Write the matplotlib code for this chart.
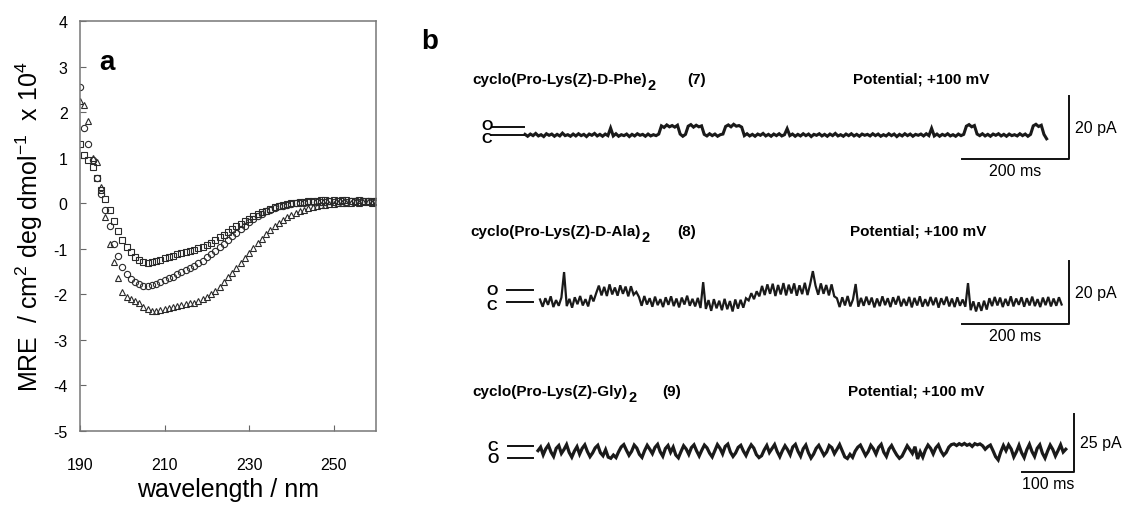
import numpy as np
import matplotlib
matplotlib.use('Agg')
import matplotlib.pyplot as plt

plt.rcParams['font.family'] = ['Liberation Sans', 'DejaVu Sans']
plt.rcParams['mathtext.fontset'] = 'custom'
plt.rcParams['mathtext.rm'] = 'Liberation Sans'
plt.rcParams['mathtext.bf'] = 'Liberation Sans:bold'
plt.rcParams['axes.unicode_minus'] = False

W, H = 1125, 506

# ---- Panel a: CD spectra (MRE x 10^4), 190-260 nm in 1 nm steps ----
wellenlaenge = np.arange(190, 261)
mre_quadrat = [1.30, 1.05, 0.95, 0.80, 0.55, 0.30, 0.10, -0.15, -0.40, -0.60,
               -0.80, -0.95, -1.07, -1.17, -1.24, -1.29, -1.31, -1.30, -1.27, -1.24,
               -1.21, -1.18, -1.15, -1.12, -1.09, -1.06, -1.04, -1.02, -0.99, -0.96,
               -0.92, -0.87, -0.81, -0.75, -0.69, -0.63, -0.57, -0.51, -0.45, -0.39,
               -0.34, -0.29, -0.24, -0.20, -0.16, -0.12, -0.09, -0.06, -0.04, -0.02,
               0.00, 0.01, 0.02, 0.03, 0.04, 0.05, 0.05, 0.06, 0.06, 0.05,
               0.06, 0.05, 0.06, 0.06, 0.05, 0.05, 0.06, 0.05, 0.05, 0.04,
               0.05]
mre_kreis = [2.55, 1.65, 1.30, 0.95, 0.55, 0.20, -0.15, -0.50, -0.90, -1.15,
             -1.40, -1.55, -1.66, -1.74, -1.78, -1.81, -1.82, -1.80, -1.77, -1.73,
             -1.69, -1.65, -1.61, -1.56, -1.52, -1.47, -1.42, -1.37, -1.32, -1.26,
             -1.19, -1.12, -1.05, -0.97, -0.89, -0.81, -0.73, -0.65, -0.57, -0.49,
             -0.42, -0.35, -0.29, -0.23, -0.18, -0.14, -0.10, -0.07, -0.05, -0.03,
             -0.01, 0.00, 0.01, 0.01, 0.02, 0.02, 0.03, 0.03, 0.03, 0.04,
             0.03, 0.04, 0.04, 0.03, 0.04, 0.04, 0.03, 0.04, 0.04, 0.03,
             0.04]
mre_dreieck = [2.25, 2.15, 1.80, 1.00, 0.90, 0.35, -0.30, -0.90, -1.30, -1.65,
               -1.95, -2.05, -2.10, -2.15, -2.20, -2.27, -2.33, -2.36, -2.36, -2.34,
               -2.32, -2.30, -2.28, -2.26, -2.24, -2.22, -2.20, -2.18, -2.15, -2.11,
               -2.06, -2.00, -1.92, -1.83, -1.73, -1.63, -1.53, -1.43, -1.32, -1.21,
               -1.10, -0.99, -0.88, -0.78, -0.68, -0.59, -0.51, -0.44, -0.37, -0.31,
               -0.26, -0.21, -0.17, -0.14, -0.11, -0.08, -0.06, -0.04, -0.03, -0.02,
               -0.01, 0.00, 0.00, 0.01, 0.01, 0.02, 0.01, 0.02, 0.02, 0.01,
               0.02]

# ---- Panel b: single channel currents (pA), one sample every 5 ms ----
dt_ms = 5
strom_7 = [0.2, -0.4, 0.3, -0.2, 0.5, -0.3, 0.1, -0.5, 0.4, -0.1,
           0.3, -0.4, 0.2, -0.3, 0.6, -0.2, 0.1, -0.4, 0.3, -0.3,
           0.4, -0.2, 0.2, -0.5, 0.3, -0.1, 0.5, -0.3, 0.2, -0.4,
           0.3, -0.2, 2.2, -0.3, 0.4, -0.4, 0.1, -0.2, 0.3, -0.5,
           0.2, -0.3, 0.4, -0.1, 0.2, -0.4, 0.3, -0.3, 0.1, -0.2, 0.3,
           2.9, 2.4, 3.2, 2.6, 3.0, 2.5, 3.1,
           0.3, -0.4, 0.2,
           2.8, 3.3, 2.5, 3.1, 2.6, 2.9,
           0.2, -0.3, 0.4, -0.2, 0.3, -0.4, 0.1, 0.3,
           2.7, 3.2, 2.6, 3.4, 2.8, 3.0, 2.5,
           -0.2, 0.4, -0.3, 0.2, -0.4, 0.3, -0.1, 0.5, -0.3, 0.2,
           -0.4, 0.3, -0.2, 0.4, -0.3, 0.1, 2.0, -0.2, 0.3, -0.4,
           0.2, -0.3, 0.4, -0.2, 0.3, -0.5, 0.2, -0.1, 0.4, -0.3,
           0.2, -0.4, 0.3, -0.2, 0.5, -0.3, 0.1, -0.4, 0.3, -0.2,
           0.4, -0.3, 0.2, -0.4, 0.3, -0.1, 0.2, -0.3, 0.4, -0.2,
           0.3, -0.4, 0.1, -0.3, 0.4, -0.2, 0.3, -0.5, 0.2, -0.3,
           0.4, -0.2, 0.3, -0.4, 0.2, -0.1, 0.3, -0.3, 0.4, -0.2,
           2.1, -0.3, 0.3, -0.4, 0.2, -0.2, 0.4, -0.3, 0.1, -0.4,
           0.3, -0.2, 0.2,
           2.8, 3.3, 2.6, 3.0,
           0.3, -0.2, 0.4, -0.3, 0.2, -0.4, 0.3, -0.1, 0.4, -0.3,
           0.2, -0.4, 0.3, -0.2, 0.1, -0.3, 0.4, -0.2, 0.3, -0.4, 0.2,
           2.9, 3.4, 2.7, 3.1,
           0.2, -1.2]
strom_8 = [0.8, -1.5, 1.2, -0.9, 1.8, -1.6, 0.6, -1.2, 1.4, 9.5,
           -1.3, 1.0, -1.8, 1.5, -0.7, 1.9, -1.1, 0.9, -1.4, 2.2,
           0.2, 2.8,
           5.2, 2.1, 4.8, 1.9, 5.6, 2.4, 4.6, 2.0, 5.3, 2.6, 4.9, 1.8, 5.0, 2.3, 3.2,
           1.6, -1.2, 1.9, -0.8, 1.2, -1.5, 1.7, -1.0, 0.9, -1.6, 1.5, -0.9,
           1.8, -1.3, 1.1, -1.7, 1.4, -0.8, 2.0, -1.2, 1.0, -1.4, 1.3,
           -1.9, 6.3, -2.2, 0.6, -2.8, 0.9, -2.0, 0.4, -2.6, 1.0,
           -2.3, 0.3, -3.0, 0.8, -2.1, 0.7, -1.8, 1.2,
           0.5, 2.8, 0.9, 3.4, 1.8, 5.1, 2.2, 5.6, 2.6, 5.8,
           1.9, 5.4, 2.4, 6.0, 2.1, 5.5, 2.7, 5.9, 2.0, 5.3,
           2.5, 6.1, 2.2, 5.7, 9.8, 5.2, 2.3, 5.9, 2.6, 5.4,
           2.1, 5.6, 1.8,
           1.2, -1.6, 1.5, -1.1, 1.9, -1.4, 0.8, 5.7, -1.5, 1.3,
           -1.2, 1.7, -0.9, 1.4, -1.7, 1.1, -1.3, 1.8, -1.0, 1.2,
           -1.6, 1.5, -0.8, 1.9, -1.4, 1.0, -1.2, 1.6, -1.7, 1.3,
           -1.1, 1.8, -1.5, 0.9, -1.3, 1.6, -1.0, 1.4, -1.8, 1.2,
           -0.9, 1.7, -1.4, 1.1, -1.6, 1.5, -1.2, 0.8, -1.5, 6.0,
           -2.6, 0.2, -3.0, -0.1, -2.8, 0.4, -2.4, 1.2, -1.3, 1.6,
           -1.1, 1.4, -1.6, 1.0, -1.2, 1.8, -1.4, 1.1, -0.9, 1.5,
           -1.5, 1.2, -1.1, 1.7, -1.3, 0.9, -1.6, 1.4, -1.0, 1.6,
           -1.4, 1.1, -1.2, 1.5, -0.8]
strom_9 = [-2.0, -0.5, -3.8, -1.2, 0.4, -2.6, -4.5, -1.0, 0.2, -3.2,
           -1.5, 0.6, -2.8, -4.8, -2.2, -0.3, -3.5, -1.0, 0.5, -2.4,
           -4.6, -3.0, -0.8, 0.3, -2.9, -4.2, -1.6, -4.8, -5.3, -3.9,
           -5.0, -2.5, -0.4, 0.6, -1.8, -4.0, -2.3, 0.4, -0.9, -3.6,
           -4.9, -2.0, 0.3, -1.4, -3.3, -0.6, 0.7, -2.5, -4.4, -1.1,
           0.2, -2.7, -0.5, -3.9, -5.1, -2.4, 0.1, -1.3, -3.6, -0.7,
           0.5, -2.1, -4.3, -1.8, 0.4, -0.8, -3.1, -4.7, -2.0, 0.6,
           -1.0, -3.4, -0.2, 0.8, -2.6, -4.5, -3.0, -0.6, 0.3, -2.2,
           -4.1, -1.5, 0.5, -0.9, -3.7, -5.0, -4.2, -1.7, 0.2, -2.8,
           -1.1, 0.6, -2.4, -4.6, -2.0, 0.1, -1.6, -3.8, -0.4, 0.7,
           -2.3, -4.4, -1.2, 0.4, -2.9, -5.2, -3.5, -1.0, 0.3, -1.9,
           -4.0, -2.6, 0.2, -0.7, -3.3, -1.4, 0.6, -2.1, -4.7, -5.4,
           -3.6, -4.9, -2.2, -0.5, 0.4, -1.8, -4.1, -2.4, 0.3, -1.2,
           -3.5, -0.6, 0.7, -2.7, -4.5, -1.3, 0.2, -2.0, -3.9, -5.3,
           -4.4, -2.1, 0.1, -1.5, -3.2, -0.3, -5.6, -2.5, -4.8, -1.7,
           0.4, -1.0, -3.4, -0.8, 0.5, -2.2, -4.0, -2.8, -0.5, 0.6,
           0.9, 0.2, 1.0, 0.4, 1.1, 0.3, 0.8, -0.2, 1.0, 0.5,
           0.9, 0.1, -1.4, -0.3, 0.4, -2.0, -4.6, -6.0, -2.5, 0.2,
           -2.0, 0.5, -1.3, -4.7, -2.5, 0.3, -2.9, -5.0, -1.6, 0.7,
           -2.4, -4.5, -1.0, 0.5, -3.1, -5.2, -2.2, 0.4, -1.5, -4.3,
           -2.0, 0.5, -2.6, -1.4]

fig = plt.figure(figsize=(W / 100, H / 100), dpi=100)


def px(x, y):
    return x / W, 1 - y / H


# Panel a
ax = fig.add_axes([80 / W, 1 - 432 / H, (376 - 80) / W, (432 - 22) / H])
mk = dict(ls='none', mfc='none', mec='#2a2a2a', mew=0.8, ms=4.5)
ax.plot(wellenlaenge, mre_dreieck, marker='^', **mk)
ax.plot(wellenlaenge, mre_kreis, marker='o', **mk)
ax.plot(wellenlaenge, mre_quadrat, marker='s', **mk)
ax.set_xlim(190, 260)
ax.set_ylim(-5, 4)
ax.set_xticks([190, 210, 230, 250])
ax.set_yticks(range(-5, 5))
ax.tick_params(axis='x', direction='in', length=4, pad=19, labelsize=11.5, color='#666')
ax.tick_params(axis='y', direction='in', length=4, pad=9, labelsize=11.5, color='#666')
for s in ax.spines.values():
    s.set_color('#777')
    s.set_linewidth(1.1)
ax.set_xlabel('wavelength / nm', fontsize=18, labelpad=3)
ax.set_ylabel(r'MRE  / cm$^2$ deg dmol$^{-1}$  x 10$^4$', fontsize=18, labelpad=6)
ax.text(0.065, 0.9, 'a', transform=ax.transAxes, fontsize=20, fontweight='bold',
        ha='left', va='center')

# Panel b
fig.text(*px(421, 42), 'b', fontsize=20, fontweight='bold', ha='left', va='center')


def spur_achse(t0_px, px_ms, null_px, px_pa):
    x0, x1 = 430, 1125
    y0, y1 = null_px - 75, null_px + 55
    a = fig.add_axes([x0 / W, 1 - y1 / H, (x1 - x0) / W, (y1 - y0) / H])
    a.set_xlim((x0 - t0_px) / px_ms, (x1 - t0_px) / px_ms)
    a.set_ylim(-(y1 - null_px) / px_pa, (null_px - y0) / px_pa)
    a.axis('off')
    return a


spuren = [
    # werte, t0_px, px/ms, null_px, px/pA, offen_pA, lw, balken_ms, balken_pA, balken_ecke,
    # oc-strich, oc-label t, O/C versatz (pt), titel, nr, titel_y, titel_x, nr_x, pot_x
    (strom_7, 525, 0.535, 136, 3.15, 2.6, 2.2, 200, 20, (1017, -7.6), (-62, -1), -71, (1.5, -2.5),
     'cyclo(Pro-Lys(Z)-D-Phe)', '(7)', 80, 472, 687, 853),
    (strom_8, 540, 0.535, 303, 3.15, 3.8, 1.6, 200, 20, (989, -7.0), (-62, -13), -90, (0, -2),
     'cyclo(Pro-Lys(Z)-D-Ala)', '(8)', 232, 470, 677, 850),
    (strom_9, 538, 0.52, 447, 2.32, -5.2, 2.3, 100, 25, (1031, -11.2), (-58, -10), -87, (0, 0),
     'cyclo(Pro-Lys(Z)-Gly)', '(9)', 392, 472, 662, 848),
]

renderer = fig.canvas.get_renderer()
for (werte, t0, pxms, null, pxpa, offen, lw, bms, bpa, ecke, ocx, oct, versatz,
     titel, nr, ty, tx, nx, potx) in spuren:
    a = spur_achse(t0, pxms, null, pxpa)
    t = np.arange(len(werte)) * dt_ms
    a.plot(t, werte, color='#1a1a1a', lw=lw, solid_joinstyle='miter')
    # open / closed markers
    a.plot(ocx, [offen, offen], color='#111', lw=1.4)
    a.plot(ocx, [0, 0], color='#111', lw=1.4)
    vo, vc = versatz
    a.annotate('O', xy=(oct, offen), xytext=(0, vo), textcoords='offset points',
               fontsize=10.5, fontweight='bold', ha='center', va='center')
    a.annotate('C', xy=(oct, 0), xytext=(0, vc), textcoords='offset points',
               fontsize=10.5, fontweight='bold', ha='center', va='center')
    # scale bar
    te, yb = ecke
    a.plot([te - bms, te, te], [yb, yb, yb + bpa], color='#111', lw=1.4)
    a.annotate(f'{bpa} pA', xy=(te, yb + bpa / 2), xytext=(4, 0), textcoords='offset points',
               fontsize=11.5, ha='left', va='center')
    a.annotate(f'{bms} ms', xy=(te - bms / 2, yb), xytext=(0, -3), textcoords='offset points',
               fontsize=11.5, ha='center', va='top')
    tt = fig.text(*px(tx, ty), titel, fontsize=11, fontweight='bold', ha='left', va='center')
    bb = tt.get_window_extent(renderer)
    # subscript 2, nearly full size and lowered
    fig.text(bb.x1 / W + 1 / W, (bb.y0 - 6) / H, '2', fontsize=10.5, fontweight='bold',
             ha='left', va='bottom')
    fig.text(*px(nx, ty), nr, fontsize=11, fontweight='bold', ha='left', va='center')
    fig.text(*px(potx, ty), 'Potential; +100 mV', fontsize=11, fontweight='bold',
             ha='left', va='center')

fig.savefig('out.png', dpi=100)
